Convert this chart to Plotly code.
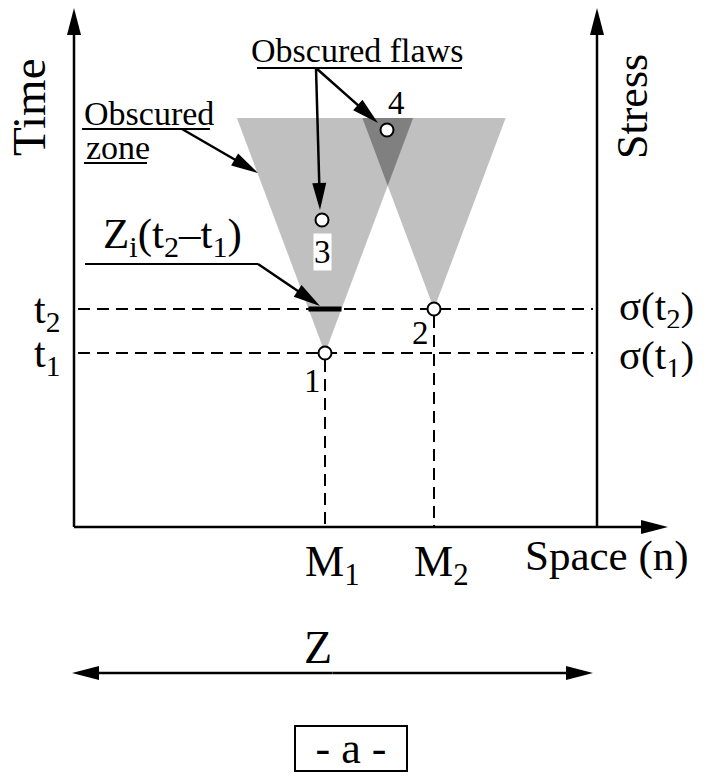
import plotly.graph_objects as go

# ---------------- data (space n on x, time t on y; origin = axes corner) -------------
space_axis_end = 594          # tip of the Space (n) axis arrow
time_axis_end = 519           # tip of the Time / Stress axis arrows
stress_axis_x = 523           # position of the Stress axis
t_levels = [174, 218]         # t1, t2
t_labels = ["t<sub>1</sub>", "t<sub>2</sub>"]
stress_labels = ["σ(t<sub>1</sub>)", "σ(t<sub>2</sub>)"]
flaw_x = [251, 360, 248, 313]
flaw_t = [174, 218, 307, 397]
flaw_labels = ["1", "2", "3", "4"]
monitor_x = [251, 360]
monitor_labels = ["M<sub>1</sub>", "M<sub>2</sub>"]
cone_top_t = 409              # upper time limit of the obscured zones
cone_slope = 0.375            # half-width of a cone per unit of time
z_extent = [-2, 519]          # Z double arrow
z_level = -146

FONT = "Liberation Serif, Times New Roman, serif"
BLACK = "#000000"
LIGHT = "#c0c0c0"
DARK = "#808080"

fig = go.Figure()


def line(xs, ys, width=2.5, dash=None, color=BLACK):
    fig.add_trace(go.Scatter(x=xs, y=ys, mode="lines", hoverinfo="skip",
                             line=dict(color=color, width=width, dash=dash)))


def poly(xs, ys, color):
    fig.add_trace(go.Scatter(x=xs + [xs[0]], y=ys + [ys[0]], mode="lines",
                             fill="toself", fillcolor=color, hoverinfo="skip",
                             line=dict(color=color, width=0)))


def arrow(x0, y0, x1, y1, head=27, half=7, width=2.5):
    dx, dy = x1 - x0, y1 - y0
    n = (dx * dx + dy * dy) ** 0.5
    ux, uy = dx / n, dy / n
    bx, by = x1 - ux * head, y1 - uy * head
    line([x0, bx + ux * 2], [y0, by + uy * 2], width=width)
    poly([x1, bx - uy * half, bx + uy * half], [y1, by + ux * half, by - ux * half], BLACK)


# ---------------- obscured zones (cones from flaws 1 and 2) ----------------
cones = []
for i in (0, 1):
    ax, at = flaw_x[i], flaw_t[i]
    hw = cone_slope * (cone_top_t - at)
    cones.append((ax, at))
    poly([ax, ax - hw, ax + hw], [at, cone_top_t, cone_top_t], LIGHT)
# overlap
(a1x, a1t), (a2x, a2t) = cones
r1 = a1x + cone_slope * (cone_top_t - a1t)
l2 = a2x - cone_slope * (cone_top_t - a2t)
ti = (a2x - a1x + cone_slope * (a1t + a2t)) / (2 * cone_slope)
xi = a1x + cone_slope * (ti - a1t)
poly([l2, r1, xi], [cone_top_t, cone_top_t, ti], DARK)

# ---------------- dashed guide lines ----------------
for t in t_levels:
    line([4, stress_axis_x - 4], [t, t], width=2, dash="12px,7px")
for i in (0, 1):
    line([monitor_x[i], monitor_x[i]], [flaw_t[i] - 7, 0], width=2, dash="12px,7px")

# Z_i(t2 - t1) segment at t2 inside cone 1
hw2 = cone_slope * (t_levels[1] - flaw_t[0])
line([flaw_x[0] - hw2, flaw_x[0] + hw2], [t_levels[1], t_levels[1]], width=5)

# ---------------- axes ----------------
arrow(0, 0, 0, time_axis_end)
arrow(stress_axis_x, 0, stress_axis_x, time_axis_end)
arrow(0, 0, space_axis_end, 0)
# Z double arrow
arrow(sum(z_extent) / 2, z_level, z_extent[1], z_level)
arrow(sum(z_extent) / 2, z_level, z_extent[0], z_level)

# ---------------- callouts ----------------
# Obscured zone
line([8, 136], [398, 398], width=2)
line([10, 73], [364, 364], width=2)
arrow(108, 398, 184, 354)
# Obscured flaws
line([183, 388], [459, 459], width=2)
arrow(242, 459, 246, 317)
arrow(242, 459, 304, 404)
# Z_i(t2-t1)
line([11, 184], [263, 263], width=2)
arrow(184, 263, 246, 221)

# ---------------- flaw markers ----------------
fig.add_trace(go.Scatter(x=flaw_x, y=flaw_t, mode="markers", hoverinfo="skip",
                         marker=dict(size=13, color="white", line=dict(color=BLACK, width=2))))

# ---------------- texts ----------------
def txt(x, y, s, size=44, **kw):
    fig.add_annotation(x=x, y=y, xref="x", yref="y", text=s, showarrow=False,
                       font=dict(family=FONT, size=size, color=BLACK), **kw)


txt(-45, 420, "Time", size=47, textangle=-90)
txt(558, 420, "Stress", size=44, textangle=-90)
for t, s in zip(t_levels, t_labels):
    txt(-12, t - 3, s, size=42, xanchor="right", height=40)
for t, s, off in zip(t_levels, stress_labels, (-5, 0)):
    txt(543, t + off, s, size=41, xanchor="left", height=38)
label_pos = [(238, 146), (346, 194), (248, 275), (322, 424)]
for (lx, ly), s in zip(label_pos, flaw_labels):
    if s == "3":
        txt(lx, ly, s, size=33, bgcolor="white", borderpad=0)
    else:
        txt(lx, ly, s, size=33)
for mx, s in zip(monitor_x, monitor_labels):
    txt(mx + 7, -8, s, yanchor="top")
txt(533, -29, "Space (n)", size=43)
txt(283, 477, "Obscured flaws", size=34)
txt(8, 414, "Obscured", size=34, xanchor="left")
txt(10, 380, "zone", size=34, xanchor="left")
txt(98, 290, "Z<sub>i</sub>(t<sub>2</sub>–t<sub>1</sub>)", size=43)
txt(244, -120, "Z", size=46)
txt(277, -221, "- a -", size=44, width=110, height=43, borderwidth=2, bordercolor=BLACK,
    borderpad=0, bgcolor="white")

fig.update_layout(
    width=708, height=776, margin=dict(l=0, r=0, t=0, b=0),
    paper_bgcolor="white", plot_bgcolor="white", showlegend=False,
    xaxis=dict(range=[-74, 634], visible=False, fixedrange=True),
    yaxis=dict(range=[-249, 527], visible=False, fixedrange=True),
)
fig.write_html("out.html")
